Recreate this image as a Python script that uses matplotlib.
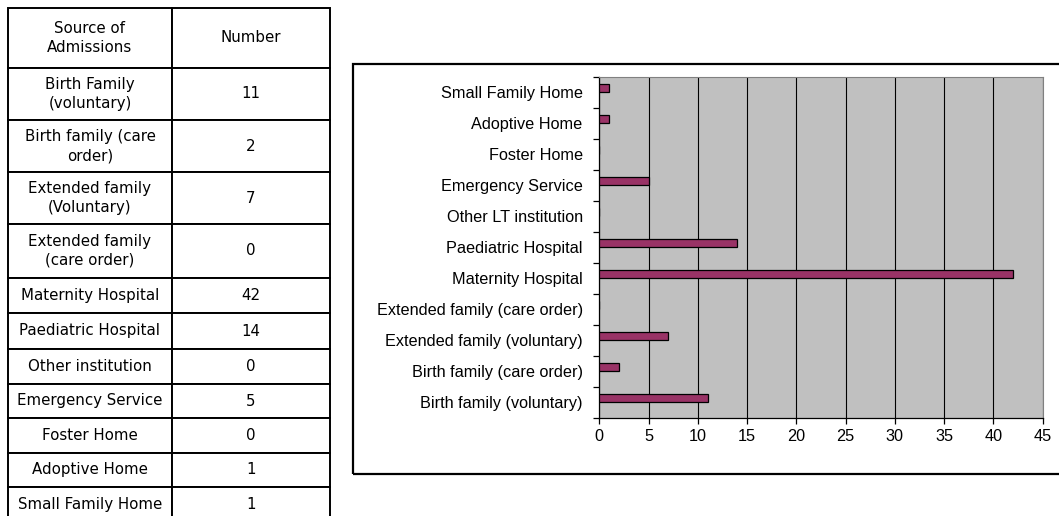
import numpy as np
import matplotlib.pyplot as plt
from matplotlib.patches import Rectangle

# table on the left
table_sources = ['Source of\nAdmissions', 'Birth Family\n(voluntary)', 'Birth family (care\norder)',
                 'Extended family\n(Voluntary)', 'Extended family\n(care order)', 'Maternity Hospital',
                 'Paediatric Hospital', 'Other institution', 'Emergency Service', 'Foster Home',
                 'Adoptive Home', 'Small Family Home']
table_counts = ['Number', '11', '2', '7', '0', '42', '14', '0', '5', '0', '1', '1']

# bar chart (bottom to top)
categories = ['Birth family (voluntary)', 'Birth family (care order)', 'Extended family (voluntary)',
              'Extended family (care order)', 'Maternity Hospital', 'Paediatric Hospital',
              'Other LT institution', 'Emergency Service', 'Foster Home', 'Adoptive Home',
              'Small Family Home']
values = [11, 2, 7, 0, 42, 14, 0, 5, 0, 1, 1]

W, H = 1059, 516
fig = plt.figure(figsize=(W / 100, H / 100), dpi=100)

# ---- table ----
row_px = [59.7, 52.3, 52.3, 51.7, 53.7, 35, 36.6, 34.4, 34.6, 34.4, 34.3, 35]
tab_top, tab_left, tab_right, col_split = 8, 8.3, 330, 171.7
tab_h = sum(row_px)
tax = fig.add_axes([0, 0, 1, 1])
tax.set_xlim(0, W)
tax.set_ylim(H, 0)
tax.axis('off')
tbl = tax.table(cellText=[[s, c] for s, c in zip(table_sources, table_counts)],
                cellLoc='center',
                bbox=[tab_left / W, 1 - (tab_top + tab_h) / H, (tab_right - tab_left) / W, tab_h / H])
tbl.auto_set_font_size(False)
for (r, c), cell in tbl.get_celld().items():
    cell.set_height(row_px[r])
    cell.set_width((col_split - tab_left) if c == 0 else (tab_right - col_split))
    cell.set_linewidth(1.4)
    cell.set_edgecolor('black')
    cell.get_text().set_fontsize(10.8)
    cell.get_text().set_fontfamily('DejaVu Sans')
    cell.get_text().set_linespacing(1.35)

# ---- chart box ----
fig.patches.append(Rectangle((352.7 / W, 1 - 474 / H), (1070 - 352.7) / W, (474 - 64) / H,
                             transform=fig.transFigure, fill=False, edgecolor='black',
                             linewidth=1.6, clip_on=False))

ax = fig.add_axes([599.3 / W, 1 - 417.7 / H, (1042.7 - 599.3) / W, (417.7 - 76.7) / H])
ax.set_facecolor('#C0C0C0')
y = np.arange(len(categories))
ax.barh(y, values, height=0.28, align='edge', color='#993366', edgecolor='black',
        linewidth=0.9, zorder=3)
ax.set_xlim(0, 45)
ax.set_ylim(-0.5, len(categories) - 0.5)
ax.set_xticks(np.arange(0, 46, 5))
ax.tick_params(axis='x', length=4, width=0.9, pad=4, labelsize=11.7)
ax.set_yticks(np.arange(-0.5, len(categories), 1))
ax.set_yticklabels([])
ax.set_yticks(y, minor=True)
ax.set_yticklabels(categories, minor=True)
ax.tick_params(axis='y', which='major', length=4, width=0.9)
ax.tick_params(axis='y', which='minor', length=0, pad=12, labelsize=11.7)
for lab in ax.get_xticklabels() + ax.get_yticklabels(minor=True):
    lab.set_fontfamily('Liberation Sans')
ax.xaxis.grid(True, color='black', linewidth=0.8, zorder=1)
ax.set_axisbelow(True)
for side in ['top', 'right']:
    ax.spines[side].set_color('#808080')
for side in ['left', 'bottom']:
    ax.spines[side].set_linewidth(0.9)

fig.savefig('out.png', dpi=100)
